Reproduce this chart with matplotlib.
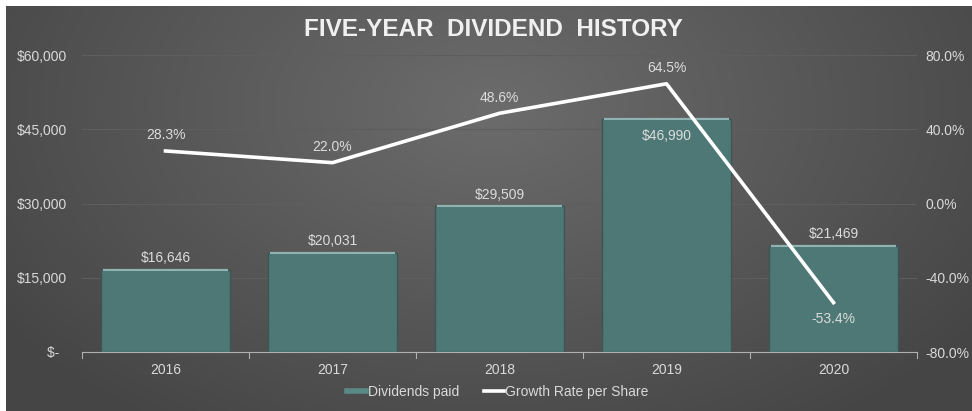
import numpy as np
import matplotlib
matplotlib.use("Agg")
import matplotlib.pyplot as plt
from matplotlib.lines import Line2D

plt.rcParams['font.family'] = ['Liberation Sans', 'DejaVu Sans']

years = ["2016", "2017", "2018", "2019", "2020"]
dividends = [16646, 20031, 29509, 46990, 21469]
growth = [28.3, 22.0, 48.6, 64.5, -53.4]
div_labels = ["$16,646", "$20,031", "$29,509", "$46,990", "$21,469"]
growth_labels = ["28.3%", "22.0%", "48.6%", "64.5%", "-53.4%"]
left_ticks = [0, 15000, 30000, 45000, 60000]
left_ticklabels = ["$-  ", "$15,000", "$30,000", "$45,000", "$60,000"]
right_ticks = [-80, -40, 0, 40, 80]
right_ticklabels = ["-80.0%", "-40.0%", "0.0%", "40.0%", "80.0%"]

W, H = 972, 411
fig = plt.figure(figsize=(W / 100, H / 100), dpi=100, facecolor="white")

# background gradient
bg = fig.add_axes([6 / W, 0, 1 - 6 / W, 1 - 6 / H])
bg.set_axis_off()
yy, xx = np.mgrid[0:200, 0:400]
cx, cy = 200, 50
r = np.sqrt(((xx - cx) / 250.0) ** 2 + ((yy - cy) / 190.0) ** 2)
r = np.clip(r, 0, 1)
inner = np.array([0x6c, 0x6c, 0x6c]) / 255
outer = np.array([0x45, 0x45, 0x45]) / 255
img = inner[None, None, :] * (1 - r[..., None]) + outer[None, None, :] * r[..., None]
bg.imshow(img, aspect="auto", extent=[0, 1, 0, 1], origin="upper")
bg.set_xlim(0, 1)
bg.set_ylim(0, 1)

ax = fig.add_axes([82 / W, 1 - 352 / H, (917 - 82) / W, (352 - 55) / H])
ax.patch.set_alpha(0)
x = np.arange(len(years))
bars = ax.bar(x, dividends, width=0.77, color="#4d7876", edgecolor="#3a5756",
              linewidth=1.0, zorder=3)
for b in bars:
    ax.plot([b.get_x() + 0.01, b.get_x() + b.get_width() - 0.01],
            [b.get_height(), b.get_height()], color="#8fb3b0", lw=1.6,
            zorder=4, solid_capstyle="butt")
ax.set_xlim(-0.5, 4.5)
ax.set_ylim(0, 60000)
ax.set_yticks(left_ticks)
ax.set_yticklabels(left_ticklabels)
ax.set_xticks(x)
ax.set_xticklabels(years)
ax.grid(axis="y", color="#5e5e5e", lw=0.8, zorder=0)
for s in ["top", "right", "left"]:
    ax.spines[s].set_visible(False)
ax.spines["bottom"].set_color("#b0b0b0")
ax.spines["bottom"].set_zorder(5)
ax.tick_params(axis="y", length=0, colors="#d9d9d9", labelsize=10, pad=11)
ax.tick_params(axis="x", length=0, colors="#d9d9d9", labelsize=10, pad=8)
for bnd in np.arange(-0.5, 5.0, 1.0):
    ax.plot([bnd, bnd], [0, -1200], color="#b0b0b0", lw=0.8, clip_on=False, zorder=5)

for i, (v, lab) in enumerate(zip(dividends, div_labels)):
    if i == 3:
        ax.text(i, v - 3300, lab, ha="center", va="center", color="#dcdcdc", fontsize=10, zorder=6)
    else:
        ax.text(i, v + 2300, lab, ha="center", va="center", color="#dcdcdc", fontsize=10, zorder=6)

ax2 = ax.twinx()
ax2.set_ylim(-80, 80)
ax2.set_yticks(right_ticks)
ax2.set_yticklabels(right_ticklabels)
ax2.tick_params(axis="y", length=0, colors="#d9d9d9", labelsize=10, pad=6)
for s in ax2.spines.values():
    s.set_visible(False)
ax2.plot(x, growth, color="white", lw=2.6, zorder=7)
for i, (v, lab) in enumerate(zip(growth, growth_labels)):
    off = 8.5 if v > 0 else -9
    ax2.text(i, v + off, lab, ha="center", va="center", color="#dcdcdc", fontsize=10, zorder=8)

fig.text(0.508, 1 - 30 / H, "FIVE-YEAR  DIVIDEND  HISTORY", ha="center", va="center",
         color="#f0f0f0", fontsize=17.5, fontweight="bold")

handles = [Line2D([0], [0], color="#5a8a86", lw=4),
           Line2D([0], [0], color="white", lw=2.6)]
leg = fig.legend(handles, ["Dividends paid", "Growth Rate per Share"], loc="center",
                 bbox_to_anchor=(0.512, 1 - 392 / H), ncol=2, frameon=False,
                 fontsize=10, labelcolor="#d9d9d9", handlelength=1.4,
                 handletextpad=0.1, columnspacing=1.8)

fig.savefig("out.png", dpi=100, facecolor=fig.get_facecolor())
